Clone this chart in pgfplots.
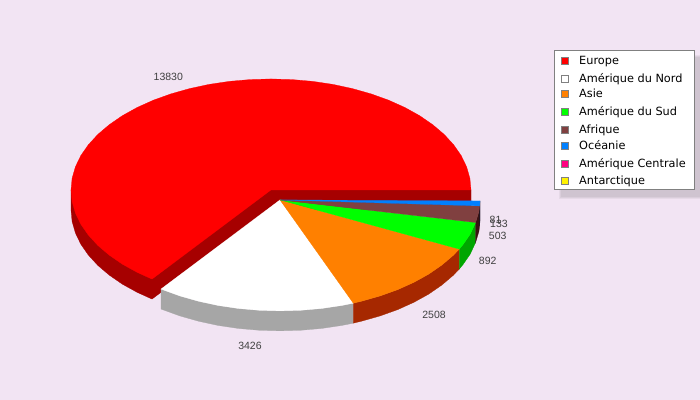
\documentclass[border=0pt]{standalone}
\usepackage{pgfplots}
\pgfplotsset{compat=1.18}
\usepackage{fontspec}
\setmainfont{Liberation Sans}
\newfontfamily\legfont{DejaVu Sans}
\definecolor{bgc}{HTML}{F2E4F3}
\definecolor{sh1}{HTML}{E6D9E7}
\definecolor{sh2}{HTML}{DACEDB}
\definecolor{sh3}{HTML}{CFC4D0}
\definecolor{redS}{HTML}{A60000}
\definecolor{whS}{HTML}{A6A6A6}
\definecolor{orT}{HTML}{FF8000}
\definecolor{orS}{HTML}{A62800}
\definecolor{grS}{HTML}{00A600}
\definecolor{brT}{HTML}{804040}
\definecolor{brS}{HTML}{3A1212}
\definecolor{blT}{HTML}{0080FF}
\definecolor{blS}{HTML}{100818}
\definecolor{pkT}{HTML}{FF0080}
\definecolor{txt}{HTML}{404040}
\pgfplotsset{
  poly/.style={draw=#1,fill=#1,line width=0.25pt,mark=none,forget plot},
  swatch/.style={draw={rgb,255:red,128;green,128;blue,128},fill=#1,line width=0.8pt,mark=none,forget plot}
}
\newcommand{\lab}[3]{\node[anchor=base,inner sep=0pt,text=txt,font=\fontsize{10.5}{12}\selectfont] at (axis cs:#1,#2) {#3};}
\newcommand{\leg}[2]{\node[anchor=base west,inner sep=0pt,text=black,font=\legfont\fontsize{11.3}{13}\selectfont] at (axis cs:579,#1) {#2};}
\begin{document}
\begin{tikzpicture}
\begin{axis}[
  scale only axis,width=699.6pt,height=399.6pt,
  xmin=0,xmax=700,ymin=0,ymax=400,y dir=reverse,
  hide axis,clip=true]
% background
\addplot[draw=none,fill=bgc,mark=none,forget plot] coordinates {(0,0)(700,0)(700,400)(0,400)} --cycle;
% Europe side
\addplot[poly=redS] coordinates {(71,190)(71,210)(72.1,221.6)(75.4,233.1)(80.8,244.3)(88.3,255.1)(97.8,265.5)(109.2,275.2)(122.4,284.3)(137.2,292.5)(152,299.2)(271,210)(471,210)(471,190)(271,190)} --cycle;
% Europe top
\addplot[poly=red] coordinates {(271,190)(471,190)(469.9,178.4)(466.6,166.9)(461.2,155.7)(453.7,144.9)(444.2,134.5)(432.8,124.8)(419.6,115.7)(404.8,107.5)(388.6,100.2)(371,93.9)(352.3,88.6)(332.8,84.4)(312.6,81.4)(291.9,79.6)(271,79)(250.1,79.6)(229.4,81.4)(209.2,84.4)(189.7,88.6)(171,93.9)(153.4,100.2)(137.2,107.5)(122.4,115.7)(109.2,124.8)(97.8,134.5)(88.3,144.9)(80.8,155.7)(75.4,166.9)(72.1,178.4)(71,190)(72.1,201.6)(75.4,213.1)(80.8,224.3)(88.3,235.1)(97.8,245.5)(109.2,255.2)(122.4,264.3)(137.2,272.5)(152,279.2)} --cycle;
% sides of the offset slices
\addplot[poly=whS] coordinates {(161,289.2)(180,296.1)(198.7,301.4)(218.2,305.6)(238.4,308.6)(259.1,310.4)(280,311)(300.9,310.4)(321.6,308.6)(341.8,305.6)(353.3,303.3)(353.3,323.3)(341.8,325.6)(321.6,328.6)(300.9,330.4)(280,331)(259.1,330.4)(238.4,328.6)(218.2,325.6)(198.7,321.4)(180,316.1)(161,309.2)} --cycle;
\addplot[poly=orS] coordinates {(353.3,303.3)(361.3,301.4)(380,296.1)(397.6,289.8)(413.8,282.5)(428.6,274.3)(441.8,265.2)(453.2,255.5)(459.3,249.2)(459.3,269.2)(453.2,275.5)(441.8,285.2)(428.6,294.3)(413.8,302.5)(397.6,309.8)(380,316.1)(361.3,321.4)(353.3,323.3)} --cycle;
\addplot[poly=grS] coordinates {(459.3,249.2)(462.7,245.1)(470.2,234.3)(475.6,222.6)(475.6,242.6)(470.2,254.3)(462.7,265.1)(459.3,269.2)} --cycle;
\addplot[poly=brS] coordinates {(475.6,222.6)(478.9,211.6)(479.6,206)(479.6,226)(478.9,231.6)(475.6,242.6)} --cycle;
\addplot[poly=blS] coordinates {(479.6,206)(480,201)(480,221)(479.6,226)} --cycle;
% tops of the offset slices
\addplot[poly=white] coordinates {(280,200)(161,289.2)(180,296.1)(198.7,301.4)(218.2,305.6)(238.4,308.6)(259.1,310.4)(280,311)(300.9,310.4)(321.6,308.6)(341.8,305.6)(353.3,303.3)} --cycle;
\addplot[poly=orT] coordinates {(280,200)(353.3,303.3)(361.3,301.4)(380,296.1)(397.6,289.8)(413.8,282.5)(428.6,274.3)(441.8,265.2)(453.2,255.5)(459.3,249.2)} --cycle;
\addplot[poly=green] coordinates {(280,200)(459.3,249.2)(462.7,245.1)(470.2,234.3)(475.6,222.6)} --cycle;
\addplot[poly=brT] coordinates {(280,200)(475.6,222.6)(478.9,211.6)(479.6,206)} --cycle;
\addplot[poly=blT] coordinates {(280,200)(479.6,206)(480,201)} --cycle;
% value labels
\lab{168.3}{81}{13830}
\lab{250}{350}{3426}
\lab{434}{319}{2508}
\lab{487.7}{264.5}{892}
\lab{497.7}{240}{503}
\lab{495.5}{224}{81}
\lab{499}{228}{133}
% legend shadow and box
\addplot[poly=sh1] coordinates {(559,55)(699.5,55)(699.5,198)(559,198)} --cycle;
\addplot[poly=sh2] coordinates {(560,56)(699.5,56)(699.5,197)(560,197)} --cycle;
\addplot[poly=sh3] coordinates {(561,57)(699.5,57)(699.5,196)(561,196)} --cycle;
\addplot[mark=none,forget plot,fill=white,draw={rgb,255:red,128;green,128;blue,128},line width=0.9pt] coordinates {(554.5,50.5)(694,50.5)(694,189.5)(554.5,189.5)} --cycle;
\addplot[swatch=red] coordinates {(561.7,57.3)(568.3,57.3)(568.3,64)(561.7,64)} --cycle;
\addplot[swatch=white] coordinates {(561.7,75.3)(568.3,75.3)(568.3,82)(561.7,82)} --cycle;
\addplot[swatch=orT] coordinates {(561.7,90.6)(568.3,90.6)(568.3,97.3)(561.7,97.3)} --cycle;
\addplot[swatch=green] coordinates {(561.7,108.3)(568.3,108.3)(568.3,115)(561.7,115)} --cycle;
\addplot[swatch=brT] coordinates {(561.7,126.3)(568.3,126.3)(568.3,133)(561.7,133)} --cycle;
\addplot[swatch=blT] coordinates {(561.7,142.6)(568.3,142.6)(568.3,149.3)(561.7,149.3)} --cycle;
\addplot[swatch=pkT] coordinates {(561.7,160.3)(568.3,160.3)(568.3,167)(561.7,167)} --cycle;
\addplot[swatch=yellow] coordinates {(561.7,177.6)(568.3,177.6)(568.3,184.3)(561.7,184.3)} --cycle;
\leg{65}{Europe}
\leg{83}{Amérique du Nord}
\leg{98}{Asie}
\leg{116}{Amérique du Sud}
\leg{134}{Afrique}
\leg{150}{Océanie}
\leg{168}{Amérique Centrale}
\leg{185}{Antarctique}
\end{axis}
\end{tikzpicture}
\end{document}
